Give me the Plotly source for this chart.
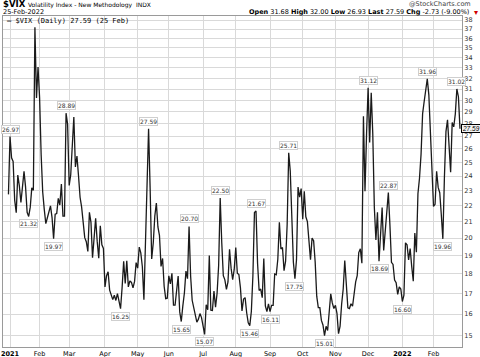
import numpy as np
import pandas as pd
import plotly.graph_objects as go

# ---------------- data ----------------
holidays = ["2021-01-01", "2021-01-18", "2021-02-15", "2021-04-02", "2021-05-31",
            "2021-07-05", "2021-09-06", "2021-11-25", "2021-12-24",
            "2022-01-17", "2022-02-21"]
dates = [d.strftime("%Y-%m-%d") for d in
         pd.bdate_range("2020-12-31", "2022-02-25", freq="C", holidays=holidays)]

vix_2020 = [22.75]
vix_jan21 = [26.97, 25.34, 25.07, 22.37, 21.56, 24.08, 23.33, 22.21, 23.25, 24.34,
             23.24, 21.58, 21.32, 21.91, 23.19, 23.02, 37.21, 30.21, 33.09]
vix_feb21 = [30.24, 25.56, 22.91, 21.77, 20.87, 21.24, 21.63, 21.99, 21.25, 19.97,
             21.46, 21.50, 22.49, 22.05, 23.45, 21.34, 21.34, 28.89, 27.95]
vix_mar21 = [23.35, 24.10, 26.67, 28.57, 24.66, 25.47, 24.03, 22.56, 21.91, 20.69,
             20.03, 19.79, 19.23, 21.58, 20.95, 18.88, 20.30, 21.20, 19.81, 18.86,
             20.74, 19.61, 19.40]
vix_apr21 = [17.33, 17.91, 18.12, 17.16, 16.95, 16.69, 16.91, 16.65, 16.99, 16.57,
             16.25, 17.30, 18.68, 17.50, 18.71, 17.33, 17.64, 17.56, 17.28, 17.61, 18.61]
vix_may21 = [18.31, 19.48, 19.15, 18.39, 16.69, 19.66, 21.84, 27.59, 23.13, 18.81,
             19.72, 21.34, 22.18, 20.67, 20.15, 18.40, 18.84, 17.36, 16.74, 16.76]
vix_jun21 = [17.90, 17.48, 18.04, 16.42, 16.42, 17.07, 17.89, 16.10, 15.65, 16.39,
             17.02, 18.15, 17.75, 20.70, 17.89, 16.66, 16.32, 15.97, 15.62, 15.76,
             16.02, 15.83]
vix_jul21 = [15.48, 15.07, 16.44, 16.20, 19.00, 16.18, 16.17, 17.12, 16.33, 17.01,
             18.45, 22.50, 19.73, 17.91, 17.69, 17.20, 17.58, 19.36, 18.31, 17.70, 18.24]
vix_aug21 = [19.46, 18.04, 17.97, 17.28, 16.15, 16.72, 16.79, 16.06, 15.59, 15.46,
             16.12, 17.91, 21.57, 21.67, 18.56, 17.15, 17.22, 16.79, 18.84, 16.39,
             16.11, 16.48]
vix_sep21 = [16.11, 16.41, 16.41, 18.00, 17.96, 18.80, 20.95, 19.37, 19.46, 18.18,
             18.69, 20.81, 25.71, 24.36, 20.87, 18.63, 17.75, 18.76, 23.25, 22.56, 23.14]
vix_oct21 = [21.15, 22.96, 21.30, 21.00, 19.54, 18.77, 20.00, 19.85, 18.64, 16.86,
             16.30, 16.30, 15.70, 15.49, 15.01, 15.43, 15.24, 15.98, 16.98, 16.53, 16.26]
vix_nov21 = [16.41, 16.03, 15.10, 15.44, 16.48, 17.22, 18.73, 17.66, 16.29, 16.26,
             16.49, 16.37, 17.11, 17.59, 17.91, 19.17, 19.38, 18.58, 28.62, 22.96, 27.19]
vix_dec21 = [31.12, 26.50, 30.67, 27.18, 21.89, 19.90, 21.58, 18.69, 20.31, 21.89,
             19.29, 20.57, 21.57, 22.87, 20.80, 18.63, 18.51, 17.68, 17.54, 16.95,
             17.33, 17.22]
vix_jan22 = [16.60, 16.91, 19.73, 19.61, 18.76, 19.40, 18.41, 17.62, 20.31, 19.19,
             22.79, 23.85, 25.59, 28.85, 29.90, 31.16, 31.96, 30.49, 27.66, 24.83]
vix_feb22 = [21.96, 22.09, 24.35, 23.22, 22.86, 21.44, 19.96, 23.91, 27.36, 28.33,
             25.70, 24.29, 28.11, 27.75, 28.81, 31.02, 30.32, 27.59]

vix = (vix_2020 + vix_jan21 + vix_feb21 + vix_mar21 + vix_apr21 + vix_may21 + vix_jun21
       + vix_jul21 + vix_aug21 + vix_sep21 + vix_oct21 + vix_nov21 + vix_dec21
       + vix_jan22 + vix_feb22)

tick_dates = ["2021-01-04", "2021-02-01", "2021-03-01", "2021-04-01", "2021-05-03",
              "2021-06-01", "2021-07-01", "2021-08-02", "2021-09-01", "2021-10-01",
              "2021-11-01", "2021-12-01", "2022-01-03", "2022-02-01"]
tick_labels = ["<b>2021</b>", "Feb", "Mar", "Apr", "May", "Jun", "Jul", "Aug", "Sep",
               "Oct", "Nov", "Dec", "<b>2022</b>", "Feb"]
y_ticks = list(range(15, 39))

# labelled highs (above) and lows (below)
peak_dates = ["2021-01-04", "2021-02-25", "2021-05-12", "2021-06-18", "2021-07-19",
              "2021-08-19", "2021-09-20", "2021-12-01", "2021-12-20", "2022-01-26",
              "2022-02-23"]
trough_dates = ["2021-01-21", "2021-02-12", "2021-04-16", "2021-06-11", "2021-07-02",
                "2021-08-13", "2021-09-01", "2021-09-24", "2021-10-21", "2021-12-10",
                "2022-01-03", "2022-02-09"]

# ---------------- figure ----------------
val = dict(zip(dates, vix))
fig = go.Figure()
fig.add_trace(go.Scatter(x=dates, y=vix, mode="lines",
                         line=dict(color="#1a1a1a", width=1.3), showlegend=False,
                         hoverinfo="skip"))

L, R, T, B, W, H = 3, 18, 16, 10, 480, 357
PW, PH = W - L - R, H - T - B


def px(xp):
    return (xp - L) / PW


def py(yp):
    return (H - B - yp) / PH


ann = []
box = dict(bgcolor="white", bordercolor="#cfcfcf", borderwidth=1, borderpad=0,
           font=dict(family="DejaVu Sans", size=6, color="#333"), showarrow=False)
for d in peak_dates:
    ann.append(dict(x=d, y=np.log10(val[d]), xref="x", yref="y", text=f"{val[d]:.2f}",
                    yanchor="bottom", yshift=3, **box))
for d in trough_dates:
    ann.append(dict(x=d, y=np.log10(val[d]), xref="x", yref="y", text=f"{val[d]:.2f}",
                    yanchor="top", yshift=-3, **box))

# last value tag
ann.append(dict(x=1.0, y=np.log10(vix[-1]), xref="paper", yref="y", text=f"<i>{vix[-1]:.2f}</i>",
                xanchor="left", xshift=-1, showarrow=False, bgcolor="#f2f2f2", bordercolor="#000",
                borderwidth=1, borderpad=0, font=dict(family="Liberation Sans", size=6.5, color="#000")))

# header texts
hdr = dict(xref="paper", yref="paper", showarrow=False)
ann.append(dict(x=px(1), y=py(4.5), xanchor="left", yanchor="middle",
                text="<b>$VIX</b> <span style='font-size:6px'>Volatility Index - New Methodology  INDX</span>",
                font=dict(family="DejaVu Sans", size=8.5, color="#000"), **hdr))
ann.append(dict(x=px(1), y=py(12.5), xanchor="left", yanchor="middle", text="25-Feb-2022",
                font=dict(family="DejaVu Sans", size=6.5, color="#000"), **hdr))
ann.append(dict(x=px(473), y=py(4), xanchor="right", yanchor="middle", text="@StockCharts.com",
                font=dict(family="DejaVu Sans", size=6.5, color="#444"), **hdr))
ann.append(dict(x=px(471), y=py(12.5), xanchor="right", yanchor="middle",
                text="<b>Open</b> 31.68 <b>High</b> 32.00 <b>Low</b> 26.93 <b>Last</b> 27.59 <b>Chg</b> -2.73 (-9.00%)",
                font=dict(family="DejaVu Sans", size=6.5, color="#000"), **hdr))
ann.append(dict(x=px(472), y=py(13), xanchor="left", yanchor="middle", text="▾",
                font=dict(family="DejaVu Sans", size=8, color="#d00000"), **hdr))
# legend
ann.append(dict(x=px(5), y=py(20.5), xanchor="left", yanchor="middle",
                text="<b>—</b> $VIX (Daily) 27.59 (25 Feb)",
                font=dict(family="DejaVu Sans Mono", size=7, color="#000"), **hdr))

n = len(dates)
fig.update_layout(
    width=W, height=H, autosize=False,
    margin=dict(l=L, r=R, t=T, b=B, pad=0),
    paper_bgcolor="white", plot_bgcolor="white",
    annotations=ann,
    xaxis=dict(type="category", range=[-3.5, n - 1 + 1.3],
               tickmode="array", tickvals=tick_dates, ticktext=tick_labels,
               showgrid=True, gridcolor="#d9d9d9", gridwidth=1,
               showline=True, linecolor="#9a9a9a", mirror=True, ticks="",
               tickfont=dict(family="DejaVu Sans", size=6.5, color="#000"),
               zeroline=False, fixedrange=True, automargin=False),
    yaxis=dict(type="log", side="right",
               range=[np.log10(14.52), np.log10(38.45)],
               tickmode="array", tickvals=y_ticks, ticktext=[str(v) for v in y_ticks],
               showgrid=True, gridcolor="#d9d9d9", gridwidth=1,
               showline=True, linecolor="#9a9a9a", mirror=True, ticks="",
               tickfont=dict(family="DejaVu Sans", size=6.5, color="#333"),
               zeroline=False, fixedrange=True, automargin=False),
)

fig.write_html("out.html", config={"displayModeBar": False},
               post_script="document.body.style.margin='0px';document.body.style.padding='0px';")
